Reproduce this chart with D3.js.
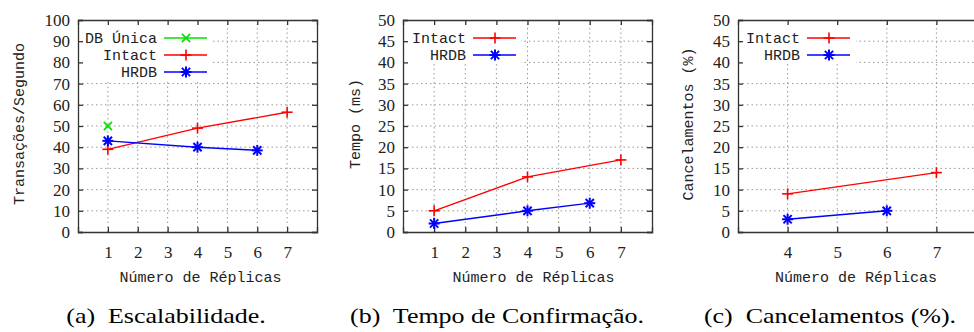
<!DOCTYPE html>
<html>
<head>
<meta charset="utf-8">
<script src="https://cdn.jsdelivr.net/npm/d3@7"></script>
<style>
  body { margin: 0; background: #fff; }
  .tick text { font-family: "Liberation Serif", serif; font-size: 17px; fill: #222; }
  .mono { font-family: "Liberation Mono", monospace; font-size: 15px; fill: #222; }
  .caption { font-family: "Liberation Serif", serif; font-size: 22px; fill: #000; }
</style>
</head>
<body>
<div id="chart"></div>
<script>
// escalabilidade (transacoes/segundo)
var dbUnicaX = [1];
var dbUnicaTps = [50];
var intactX = [1, 4, 7];
var intactTps = [39, 49, 56.5];
var hrdbX = [1, 4, 6];
var hrdbTps = [43, 40, 38.5];

// tempo de confirmacao (ms)
var intactTempo = [5, 13, 17];
var hrdbTempo = [2, 5, 6.8];

// cancelamentos (%)
var intactCancelX = [4, 7];
var intactCancel = [9, 14];
var hrdbCancelX = [4, 6];
var hrdbCancel = [3, 5];

var xTicksAll = [1, 2, 3, 4, 5, 6, 7];
var xTicksCancel = [4, 5, 6, 7];

var captions = ["(a)  Escalabilidade.", "(b)  Tempo de Confirmação.", "(c)  Cancelamentos (%)."];

var colors = {"DB Única": "#00e000", "Intact": "#ff0000", "HRDB": "#0000ff"};
var markers = {"DB Única": "x", "Intact": "plus", "HRDB": "star"};

var svg = d3.select("#chart").append("svg")
    .attr("width", 974)
    .attr("height", 332);

function zip(xs, ys) {
    var out = [];
    for (var i = 0; i < xs.length; i++) out.push({x: xs[i], y: ys[i]});
    return out;
}

function marker(g, type, cx, cy, color) {
    var s = 5.5;
    var segs = [];
    if (type == "plus" || type == "star") segs.push([-s, 0, s, 0], [0, -s, 0, s]);
    if (type == "x" || type == "star") segs.push([-s * 0.75, -s * 0.75, s * 0.75, s * 0.75], [-s * 0.75, s * 0.75, s * 0.75, -s * 0.75]);
    segs.forEach(function(d) {
        g.append("line")
            .attr("x1", cx + d[0]).attr("y1", cy + d[1])
            .attr("x2", cx + d[2]).attr("y2", cy + d[3])
            .attr("stroke", color)
            .attr("stroke-width", type == "star" ? 2 : 1.6);
    });
}

function panel(cfg) {
    var x = d3.scaleLinear().domain(cfg.xDomain).range([cfg.left, cfg.right]);
    var y = d3.scaleLinear().domain([0, cfg.yMax]).range([232, 20]);
    var yTicks = d3.range(0, cfg.yMax + 0.001, cfg.yStep);
    var g = svg.append("g");

    // grid (dotted)
    g.selectAll(".gy").data(yTicks.slice(1, -1)).enter().append("line")
        .attr("x1", cfg.left).attr("x2", cfg.right)
        .attr("y1", function(d) { return y(d); }).attr("y2", function(d) { return y(d); })
        .attr("stroke", "#999").attr("stroke-dasharray", "1.5,3");
    g.selectAll(".gx").data(cfg.xTicks).enter().append("line")
        .attr("x1", function(d) { return x(d); }).attr("x2", function(d) { return x(d); })
        .attr("y1", y(0)).attr("y2", y(cfg.yMax))
        .attr("stroke", "#999").attr("stroke-dasharray", "1.5,3");

    // legend background hides grid
    g.append("rect")
        .attr("x", cfg.left + 1).attr("y", 21)
        .attr("width", cfg.legendW).attr("height", cfg.series.length * 17 + 9)
        .attr("fill", "#fff");

    // axes
    var yAxis = d3.axisLeft(y).tickValues(yTicks).tickSize(-5).tickPadding(8);
    var xAxis = d3.axisBottom(x).tickValues(cfg.xTicks).tickSize(-5).tickPadding(14)
        .tickFormat(d3.format("d"));
    g.append("g").attr("transform", "translate(" + cfg.left + ",0)").call(yAxis);
    g.append("g").attr("transform", "translate(0," + y(0) + ")").call(xAxis);
    g.append("g").attr("transform", "translate(" + cfg.right + ",0)")
        .call(d3.axisRight(y).tickValues(yTicks).tickSize(-5).tickFormat(""));
    g.append("g").attr("transform", "translate(0," + y(cfg.yMax) + ")")
        .call(d3.axisTop(x).tickValues(cfg.xTicks).tickSize(-5).tickFormat(""));
    g.selectAll(".domain").attr("stroke", "#333").attr("stroke-width", 1.3);
    g.selectAll(".tick line").attr("stroke", "#333").attr("stroke-width", 1.3);

    // series
    var line = d3.line()
        .x(function(d) { return x(d.x); })
        .y(function(d) { return y(d.y); });
    cfg.series.forEach(function(s, i) {
        var c = colors[s.name];
        g.append("path").datum(s.data)
            .attr("d", line)
            .attr("fill", "none")
            .attr("stroke", c)
            .attr("stroke-width", 1.4);
        s.data.forEach(function(d) { marker(g, markers[s.name], x(d.x), y(d.y), c); });

        // legend entry
        var ly = 38 + i * 17;
        g.append("text").attr("class", "mono")
            .attr("x", cfg.legendText).attr("y", ly).attr("dy", "0.35em")
            .attr("text-anchor", "end")
            .text(s.name);
        g.append("line")
            .attr("x1", cfg.legendText + 7).attr("x2", cfg.legendText + 50)
            .attr("y1", ly).attr("y2", ly)
            .attr("stroke", c).attr("stroke-width", 1.4);
        marker(g, markers[s.name], cfg.legendText + 29, ly, c);
    });

    // axis titles
    g.append("text").attr("class", "mono")
        .attr("text-anchor", "middle")
        .attr("x", (cfg.left + Math.min(cfg.right, 974)) / 2 + cfg.xTitleShift).attr("y", 277)
        .attr("dy", "0.35em")
        .text("Número de Réplicas");
    g.append("text").attr("class", "mono")
        .attr("text-anchor", "middle")
        .attr("transform", "translate(" + cfg.yTitleX + ",124) rotate(-90)")
        .attr("dy", "0.35em")
        .text(cfg.yTitle);

    // caption, stretched a little as in the figure
    g.append("text").attr("class", "caption")
        .attr("transform", "translate(" + cfg.captionX + ",323) scale(1.18,1)")
        .attr("text-anchor", "middle")
        .style("white-space", "pre")
        .text(cfg.caption);
}

panel({
    left: 78, right: 317, xDomain: [0, 8], xTicks: xTicksAll,
    yMax: 100, yStep: 10, yTitle: "Transações/Segundo", yTitleX: 19,
    legendW: 133, legendText: 157, xTitleShift: 3,
    captionX: 166, caption: captions[0],
    series: [
        {name: "DB Única", data: zip(dbUnicaX, dbUnicaTps)},
        {name: "Intact", data: zip(intactX, intactTps)},
        {name: "HRDB", data: zip(hrdbX, hrdbTps)}
    ]
});

panel({
    left: 403, right: 652, xDomain: [0, 8], xTicks: xTicksAll,
    yMax: 50, yStep: 5, yTitle: "Tempo (ms)", yTitleX: 355,
    legendW: 117, legendText: 466, xTitleShift: 6,
    captionX: 497, caption: captions[1],
    series: [
        {name: "Intact", data: zip(intactX, intactTempo)},
        {name: "HRDB", data: zip(hrdbX, hrdbTempo)}
    ]
});

panel({
    left: 738, right: 986, xDomain: [3, 8], xTicks: xTicksCancel,
    yMax: 50, yStep: 5, yTitle: "Cancelamentos (%)", yTitleX: 688,
    legendW: 117, legendText: 800, xTitleShift: 0,
    captionX: 830, caption: captions[2],
    series: [
        {name: "Intact", data: zip(intactCancelX, intactCancel)},
        {name: "HRDB", data: zip(hrdbCancelX, hrdbCancel)}
    ]
});
</script>
</body>
</html>
